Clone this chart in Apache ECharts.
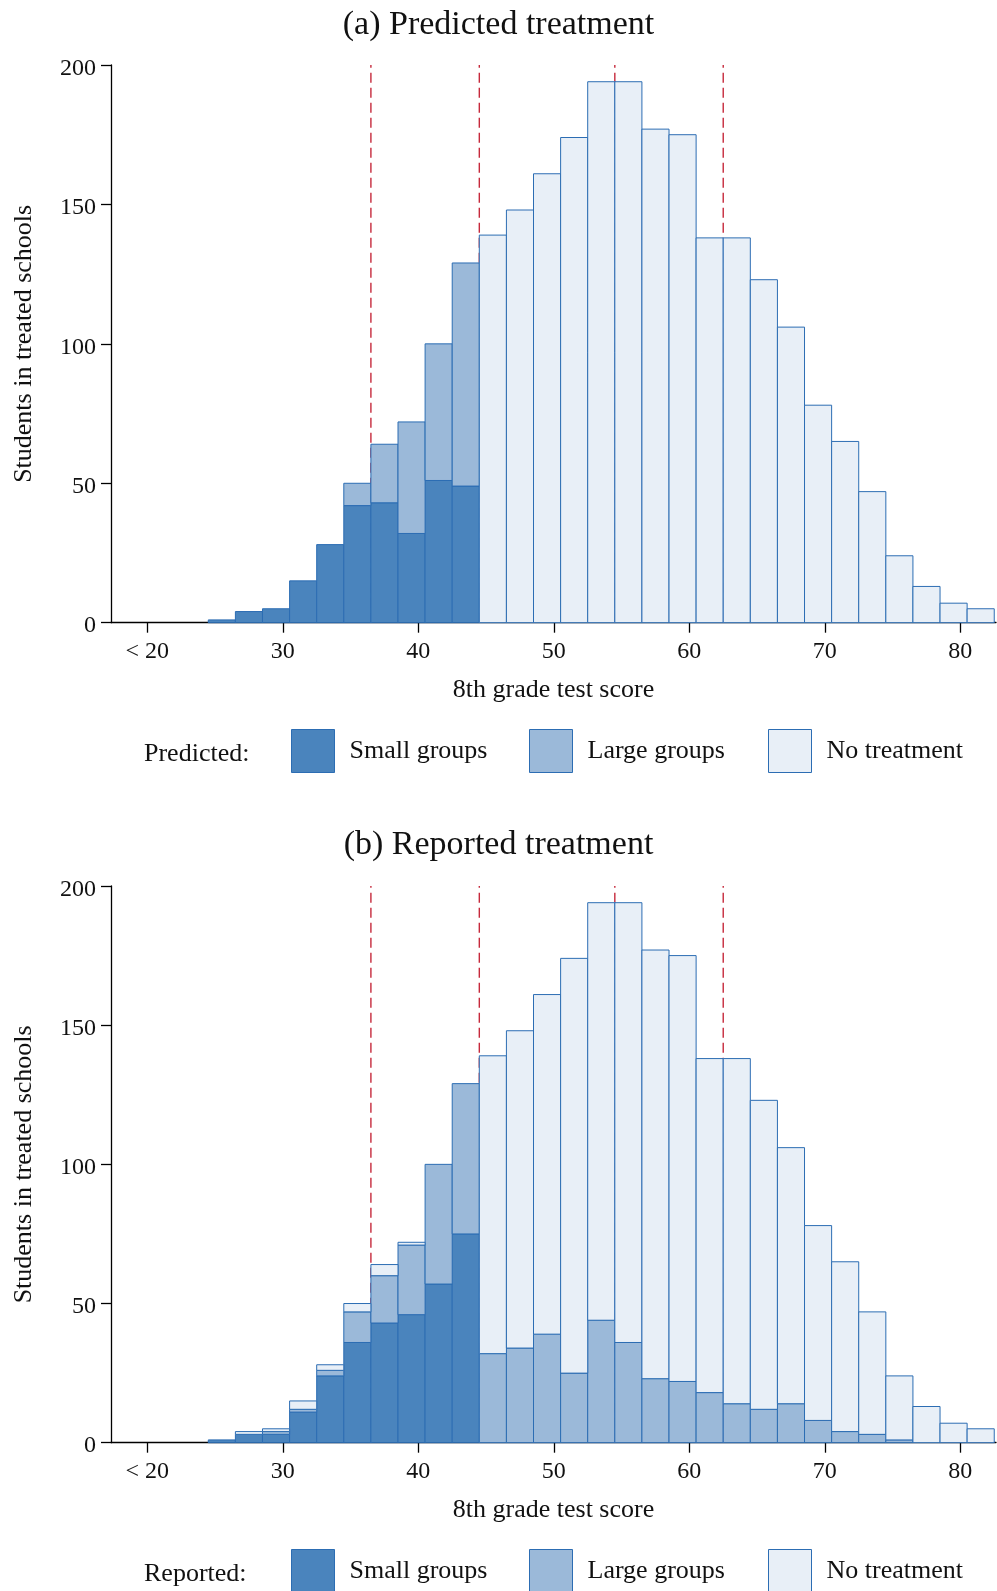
<!DOCTYPE html>
<html>
<head>
<meta charset="utf-8">
<script src="https://cdn.jsdelivr.net/npm/echarts@6/dist/echarts.min.js"></script>
<style>
html,body{margin:0;padding:0;background:#fff;}
#chart{width:997px;height:1591px;}
</style>
</head>
<body>
<div id="chart"></div>
<script>
// ---- data ----
const binCenters = [25.5,27.5,29.5,31.5,33.5,35.5,37.5,39.5,41.5,43.5,45.5,47.5,49.5,51.5,53.5,55.5,57.5,59.5,61.5,63.5,65.5,67.5,69.5,71.5,73.5,75.5,77.5,79.5,81.5];
const binWidth = 2;
const predSmall = [1,4,5,15,28,42,43,32,51,49,0,0,0,0,0,0,0,0,0,0,0,0,0,0,0,0,0,0,0];
const predLarge = [0,0,0,0,0,8,21,40,49,80,0,0,0,0,0,0,0,0,0,0,0,0,0,0,0,0,0,0,0];
const predNone  = [0,0,0,0,0,0,0,0,0,0,139,148,161,174,194,194,177,175,138,138,123,106,78,65,47,24,13,7,5];
const repSmall  = [1,3,3,11,24,36,43,46,57,75,0,0,0,0,0,0,0,0,0,0,0,0,0,0,0,0,0,0,0];
const repLarge  = [0,0,1,1,2,11,17,25,43,54,32,34,39,25,44,36,23,22,18,14,12,14,8,4,3,1,0,0,0];
const repNone   = [0,1,1,3,2,3,4,1,0,0,107,114,122,149,150,158,154,153,120,124,111,92,70,61,44,23,13,7,5];
const cutoffs = [36.5,44.5,54.5,62.5];
const xTickValues = [20,30,40,50,60,70,80];
const xTickLabels = ['< 20','30','40','50','60','70','80'];
const yTickValues = [0,50,100,150,200];
const seriesNames = ['Small groups','Large groups','No treatment'];
const panelTitles = ['(a) Predicted treatment','(b) Reported treatment'];
const legendTitles = ['Predicted:','Reported:'];

// ---- style ----
const FONT = 'Liberation Serif';
const TXT = '#111';
const fills = ['#4a84bd','#9bb9d9','#e8eff7'];
const BORDER = '#2c6db3';
const RED = '#c62a3c';

function stackData(layers){
  const out = layers.map(()=>[]);
  binCenters.forEach((c,i)=>{
    let base = 0;
    layers.forEach((arr,k)=>{
      out[k].push([c, base, arr[i]]);
      base += arr[i];
    });
  });
  return out;
}

function renderBar(params, api){
  const c = api.value(0), b = api.value(1), v = api.value(2);
  if (!v) return null;
  const p0 = api.coord([c - binWidth/2, b]);
  const p1 = api.coord([c + binWidth/2, b + v]);
  return {
    type:'rect',
    shape:{x:p0[0], y:p1[1], width:p1[0]-p0[0], height:p0[1]-p1[1]},
    style:{fill:api.visual('color'), stroke:BORDER, lineWidth:1}
  };
}
function renderCut(params, api){
  const c = api.value(0);
  const p0 = api.coord([c, 0]);
  const p1 = api.coord([c, 200]);
  return {
    type:'line',
    shape:{x1:p0[0], y1:p0[1], x2:p1[0], y2:p1[1]},
    style:{stroke:RED, lineWidth:1.4, lineDash:[10,5]}
  };
}

const grids = [
  {left:111, top:65, width:885, height:557.7},
  {left:111, top:886, width:885, height:556.7}
];
const xAxes = grids.map((g,i)=>({
  type:'value', gridIndex:i, min:17.32, max:82.63, offset:2,
  name:'8th grade test score', nameLocation:'middle', nameGap:52,
  nameTextStyle:{fontFamily:FONT, fontSize:26, color:TXT},
  axisLine:{show:true, lineStyle:{color:'#000', width:1.3}},
  axisTick:{show:true, length:10, customValues:xTickValues, lineStyle:{color:'#000', width:1.3}},
  axisLabel:{customValues:xTickValues, margin:15, fontFamily:FONT, fontSize:24, color:TXT,
    formatter:(v)=>{const k=xTickValues.indexOf(v); return k>=0?xTickLabels[k]:'';}},
  splitLine:{show:false}
}));
const yAxes = grids.map((g,i)=>({
  type:'value', gridIndex:i, min:0, max:200, interval:50,
  name:'Students in treated schools', nameLocation:'middle', nameGap:74, nameRotate:90,
  nameTextStyle:{fontFamily:FONT, fontSize:26, color:TXT},
  axisLine:{show:true, lineStyle:{color:'#000', width:1.3}},
  axisTick:{show:true, length:10, lineStyle:{color:'#000', width:1.3}},
  axisLabel:{margin:15, fontFamily:FONT, fontSize:24, color:TXT, verticalAlign:'top', lineHeight:7},
  splitLine:{show:false}
}));

const panels = [stackData([predSmall,predLarge,predNone]), stackData([repSmall,repLarge,repNone])];
const series = [];
panels.forEach((layers,pi)=>{
  series.push({
    type:'custom', xAxisIndex:pi, yAxisIndex:pi, z:1, silent:true,
    renderItem:renderCut, data:cutoffs.map(c=>[c]), clip:false
  });
  layers.forEach((data,k)=>{
    series.push({
      type:'custom', name:seriesNames[k], xAxisIndex:pi, yAxisIndex:pi, z:2+k,
      itemStyle:{color:fills[k], borderColor:BORDER, borderWidth:1},
      renderItem:renderBar, data:data, clip:false,
      encode:{x:0, y:2}
    });
  });
});

const titles = [];
panelTitles.forEach((t,i)=>{
  titles.push({text:t, left:'center', top:8 + i*820, padding:[0,0,0,12],
    textStyle:{fontFamily:FONT, fontSize:34, fontWeight:'normal', color:TXT}});
});
legendTitles.forEach((t,i)=>{
  titles.push({text:t, left:144, top:741 + i*820, padding:0,
    textStyle:{fontFamily:FONT, fontSize:26, fontWeight:'normal', color:TXT}});
});

const legends = [];
const legendLefts = [291,529,768];
[0,1].forEach(pi=>{
  seriesNames.forEach((n,k)=>{
    legends.push({
      left:legendLefts[k], top:729 + pi*820, padding:0,
      itemWidth:43, itemHeight:43, icon:'rect', selectedMode:false,
      textStyle:{fontFamily:FONT, fontSize:26, color:TXT, padding:[0,0,0,10], verticalAlign:'top', lineHeight:8},
      data:[{name:n, itemStyle:{color:fills[k], borderColor:BORDER, borderWidth:1}}]
    });
  });
});

const chart = echarts.init(document.getElementById('chart'), null, {renderer:'canvas'});
chart.setOption({
  animation:false,
  backgroundColor:'#fff',
  title:titles,
  legend:legends,
  grid:grids,
  xAxis:xAxes,
  yAxis:yAxes,
  series:series
});
</script>
</body>
</html>
